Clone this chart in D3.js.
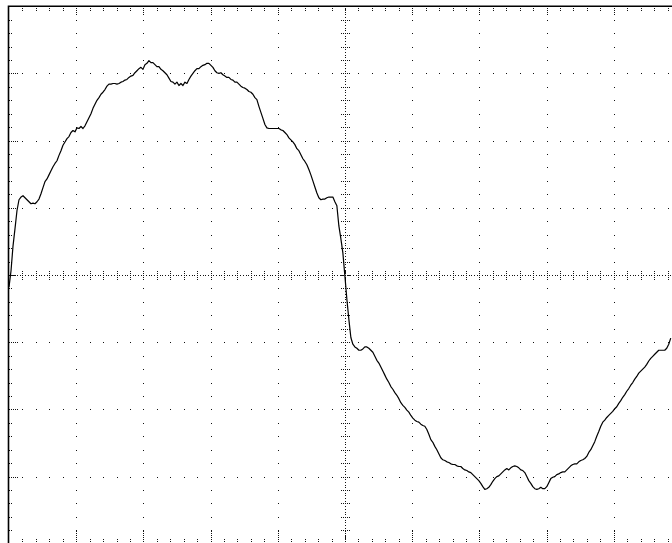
<!DOCTYPE html>
<html lang="en">
<head>
	<meta charset="utf-8">
	<title>Scope trace</title>
	<script src="https://d3js.org/d3.v7.min.js"></script>
	<style type="text/css">
		body{ margin: 0; background: #fff; }
		svg{ display: block; background-color: #fff; }
	</style>
</head>
<body>
	<svg id="scope" width="672" height="543"></svg>

	<script type="text/javascript">

	// Screen settings
	var xDivs = 10, yDivs = 8, minorPerDiv = 5
	var msPerDiv = 2, voltsPerDiv = 100
	var dt = 0.0595 // ms between samples

	// Captured samples, volts
	var voltage = [
		-18, 6, 43, 69, 96, 112, 116, 118, 115, 112, 109, 106, 107, 106, 109, 113, 121, 130, 139, 143,
		149, 155, 161, 166, 170, 178, 185, 193, 198, 203, 206, 212, 215, 213, 219, 218, 221, 218, 222, 228,
		234, 240, 248, 254, 260, 264, 269, 272, 276, 281, 284, 284, 285, 285, 284, 285, 287, 288, 290, 291,
		294, 296, 297, 301, 304, 307, 309, 306, 313, 315, 319, 316, 316, 313, 310, 310, 306, 304, 301, 298,
		293, 288, 287, 284, 287, 282, 285, 282, 287, 285, 291, 296, 300, 304, 307, 307, 310, 312, 313, 315,
		315, 312, 309, 304, 301, 300, 301, 298, 296, 294, 294, 291, 290, 287, 287, 284, 281, 279, 278, 276,
		273, 272, 269, 264, 261, 251, 242, 233, 224, 219, 218, 218, 218, 218, 218, 218, 216, 215, 212, 209,
		204, 201, 198, 194, 188, 185, 179, 173, 169, 164, 157, 149, 140, 131, 122, 115, 112, 113, 113, 115,
		116, 116, 116, 109, 103, 73, 54, 33, -1, -36, -66, -93, -103, -107, -109, -112, -112, -110, -107, -107,
		-109, -112, -115, -121, -127, -131, -137, -143, -149, -155, -160, -166, -170, -175, -179, -184, -190, -194, -197, -201,
		-204, -209, -213, -216, -218, -219, -222, -224, -225, -230, -237, -245, -249, -255, -260, -266, -272, -275, -276, -278,
		-279, -281, -282, -282, -284, -285, -285, -288, -290, -291, -293, -294, -297, -300, -303, -306, -310, -315, -319, -318,
		-316, -312, -307, -303, -300, -299, -296, -293, -290, -288, -290, -287, -285, -284, -285, -287, -290, -291, -294, -300,
		-306, -310, -315, -318, -319, -318, -316, -318, -318, -315, -309, -303, -301, -300, -297, -296, -294, -293, -293, -290,
		-287, -284, -282, -281, -281, -278, -276, -275, -273, -270, -264, -260, -254, -248, -240, -233, -225, -219, -216, -212,
		-209, -206, -203, -199, -196, -191, -187, -182, -178, -173, -169, -164, -160, -155, -151, -146, -143, -140, -137, -133,
		-128, -124, -121, -118, -115, -112, -112, -112, -112, -109, -103, -94
	]

	// Frame (the right and bottom edges run just past the window)
	var plotLeft = 9, plotTop = 6.2, divPx = 67.2
	var plotRight = plotLeft + xDivs * divPx
	var plotBottom = plotTop + yDivs * divPx

	var svg = d3.select("#scope")

	var x = d3.scaleLinear()
		.domain([0, xDivs * msPerDiv])
		.range([plotLeft, plotRight])

	var y = d3.scaleLinear()
		.domain([-yDivs / 2 * voltsPerDiv, yDivs / 2 * voltsPerDiv])
		.range([plotBottom, plotTop])

	var tMid = xDivs / 2 * msPerDiv
	var x0 = x(tMid), y0 = y(0)

	var minorT = d3.range(1, xDivs * minorPerDiv).map(i => i * msPerDiv / minorPerDiv)
	var minorV = d3.range(1, yDivs * minorPerDiv).map(i => -yDivs / 2 * voltsPerDiv + i * voltsPerDiv / minorPerDiv)
	var majorT = d3.range(1, xDivs).map(i => i * msPerDiv).filter(t => t != tMid)
	var majorV = d3.range(1, yDivs).map(i => -yDivs / 2 * voltsPerDiv + i * voltsPerDiv).filter(v => v != 0)

	var grid = svg.append("g").attr("shape-rendering", "crispEdges").attr("fill", "#111")

	// dots on the vertical graticule lines
	majorT.forEach(t => {
		grid.append("g").selectAll("rect")
			.data(minorV)
			.join("rect")
			.attr("x", Math.round(x(t)))
			.attr("y", v => Math.round(y(v)))
			.attr("width", 1).attr("height", 1)
	})
	// dots on the horizontal graticule lines
	majorV.forEach(v => {
		grid.append("g").selectAll("rect")
			.data(minorT)
			.join("rect")
			.attr("x", t => Math.round(x(t)))
			.attr("y", Math.round(y(v)))
			.attr("width", 1).attr("height", 1)
	})

	// centre axes: fine dotted lines
	var fineT = d3.range(0, xDivs * minorPerDiv * 5).map(i => i * msPerDiv / (minorPerDiv * 5))
	var fineV = d3.range(0, yDivs * minorPerDiv * 5).map(i => -yDivs / 2 * voltsPerDiv + i * voltsPerDiv / (minorPerDiv * 5))
	grid.append("g").selectAll("rect")
		.data(fineT)
		.join("rect")
		.attr("x", t => Math.round(x(t)))
		.attr("y", Math.round(y0))
		.attr("width", 1).attr("height", 1)
	grid.append("g").selectAll("rect")
		.data(fineV)
		.join("rect")
		.attr("x", Math.round(x0))
		.attr("y", v => Math.round(y(v)))
		.attr("width", 1).attr("height", 1)

	// small ticks across the centre axes
	var ticks = svg.append("g")
		.attr("stroke", "#111")
		.attr("stroke-width", 1)
		.attr("stroke-dasharray", "1,1")
		.attr("shape-rendering", "crispEdges")

	ticks.append("g").selectAll("line")
		.data(minorT)
		.join("line")
		.attr("x1", t => Math.round(x(t)) + 0.5).attr("x2", t => Math.round(x(t)) + 0.5)
		.attr("y1", Math.round(y0) - 4).attr("y2", Math.round(y0) + 5)
	ticks.append("g").selectAll("line")
		.data(minorV)
		.join("line")
		.attr("y1", v => Math.round(y(v)) + 0.5).attr("y2", v => Math.round(y(v)) + 0.5)
		.attr("x1", Math.round(x0) - 4).attr("x2", Math.round(x0) + 5)

	// ticks along the frame edges
	var edgeT = minorT.map(t => ({t: t, major: Math.abs(t / msPerDiv - Math.round(t / msPerDiv)) < 1e-6}))
	var edgeV = minorV.map(v => ({v: v, major: Math.abs(v / voltsPerDiv - Math.round(v / voltsPerDiv)) < 1e-6}))

	ticks.append("g").selectAll("line")
		.data(edgeT)
		.join("line")
		.attr("x1", d => Math.round(x(d.t)) + 0.5).attr("x2", d => Math.round(x(d.t)) + 0.5)
		.attr("y1", plotTop).attr("y2", d => plotTop + (d.major ? 9 : 5))
	ticks.append("g").selectAll("line")
		.data(edgeT)
		.join("line")
		.attr("x1", d => Math.round(x(d.t)) + 0.5).attr("x2", d => Math.round(x(d.t)) + 0.5)
		.attr("y1", plotBottom).attr("y2", d => plotBottom - (d.major ? 13 : 5))
	ticks.append("g").selectAll("line")
		.data(edgeV)
		.join("line")
		.attr("y1", d => Math.round(y(d.v)) + 0.5).attr("y2", d => Math.round(y(d.v)) + 0.5)
		.attr("x1", plotLeft).attr("x2", d => plotLeft + (d.major ? 10 : 4))

	// frame
	svg.append("path")
		.attr("fill", "none")
		.attr("stroke", "#000")
		.attr("stroke-width", 1.6)
		.attr("d", "M" + plotRight + "," + plotTop + "H" + (plotLeft - 0.5) + "V" + plotBottom)

	// trace
	var line = d3.line()
		.x((d, i) => x(i * dt))
		.y(d => y(d))

	svg.append("path")
		.datum(voltage)
		.attr("fill", "none")
		.attr("stroke", "#000")
		.attr("stroke-width", 1.2)
		.attr("stroke-linejoin", "round")
		.attr("d", line)

	</script>
</body>
</html>
